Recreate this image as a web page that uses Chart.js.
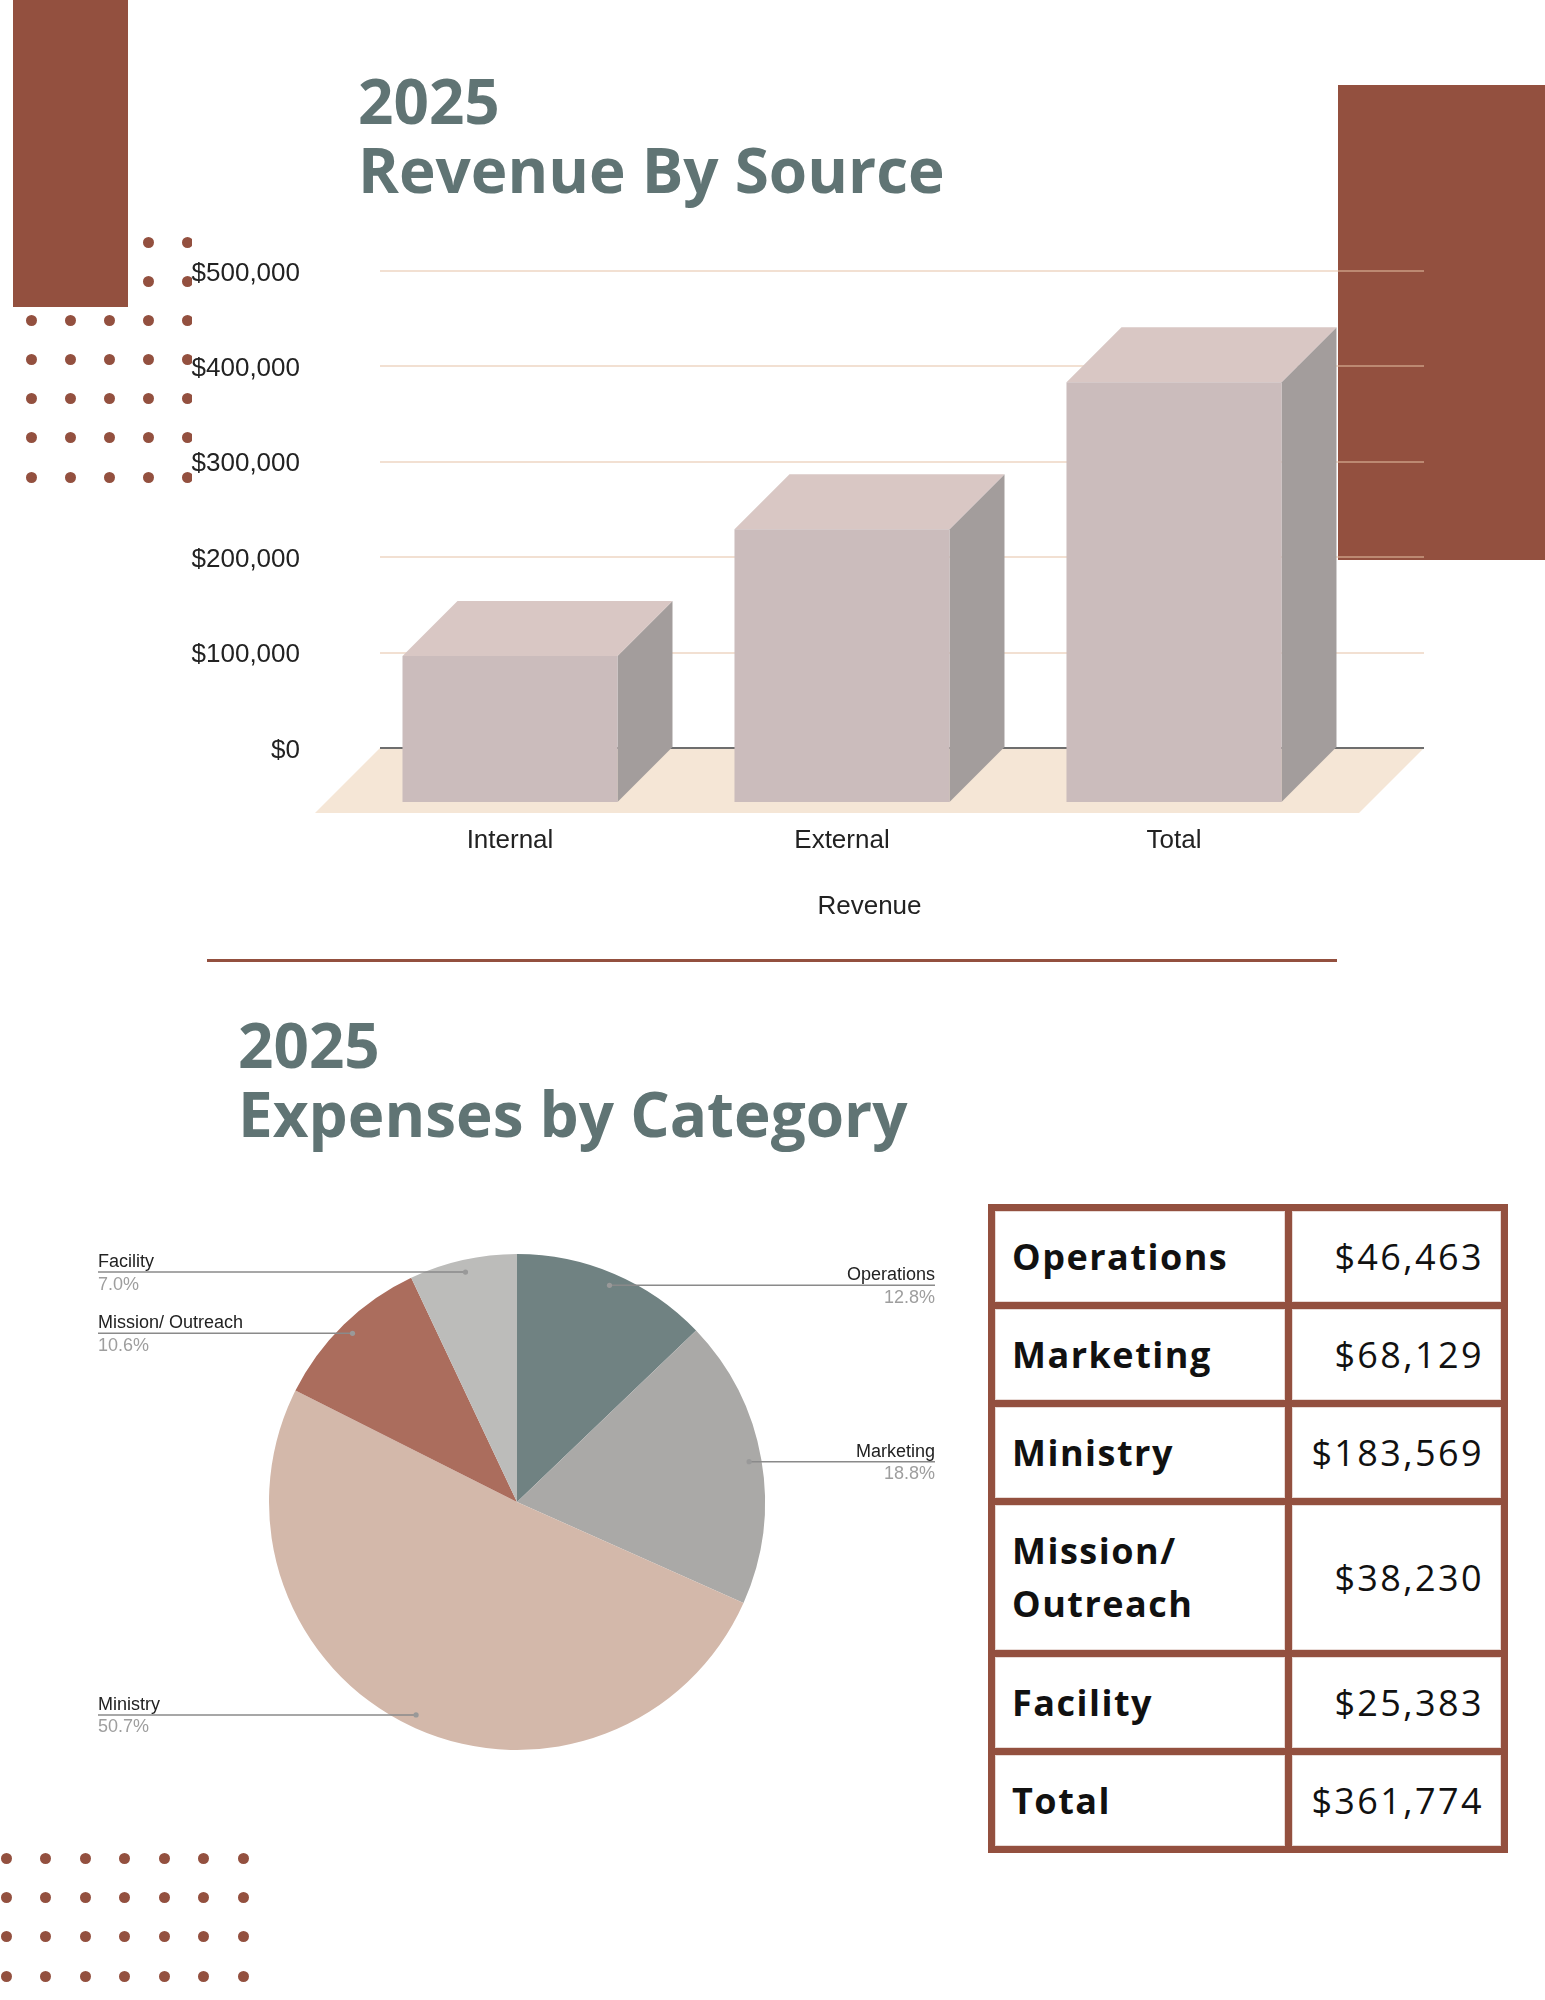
<!DOCTYPE html>
<html>
<head>
<meta charset="utf-8">
<script src="https://cdn.jsdelivr.net/npm/chart.js@4.4.1/dist/chart.umd.min.js"></script>
<style>
html,body{margin:0;padding:0;background:#fff;}
#page{position:relative;width:1545px;height:2000px;overflow:hidden;background:#fff;}
.deco{position:absolute;background:#93503F;}
.dotbox{position:absolute;overflow:hidden;}
.dot{position:absolute;width:11px;height:11px;border-radius:50%;background:#93503F;}
.title{position:absolute;font-family:"Open Sans",sans-serif;font-weight:700;font-size:62px;line-height:69px;color:#607474;letter-spacing:0;white-space:nowrap;margin:0;}
canvas{position:absolute;}
#tbl{position:absolute;left:988px;top:1203.6px;background:#93503F;padding:7px;display:grid;grid-template-columns:290px 209px;grid-template-rows:91px 91px 91px 145px 91px 91px;gap:7px;}
.cell{background:#fff;display:flex;align-items:center;font-family:"Open Sans",sans-serif;font-size:36px;color:#111;box-shadow:inset 0 0 0 1px #e8dad6;}
.lab{font-weight:700;padding-left:17px;letter-spacing:1.5px;line-height:53px;}
.val{justify-content:flex-end;padding-right:17px;letter-spacing:2.4px;font-weight:400;}
</style>
</head>
<body>
<div id="page">
  <div class="dotbox" id="dotsTop" style="left:0;top:230px;width:192px;height:260px;"></div>
  <div class="dotbox" id="dotsBottom" style="left:0;top:1845px;width:260px;height:150px;"></div>
  <div class="deco" style="left:13px;top:0;width:115px;height:307px;"></div>
  <div class="deco" style="left:1338px;top:85px;width:207px;height:475px;"></div>
  <div class="deco" style="left:207px;top:958.5px;width:1130px;height:3px;"></div>

  <div class="title" style="left:358px;top:66px;">2025</div>
  <div class="title" style="left:358px;top:135px;">Revenue By Source</div>
  <div class="title" style="left:238px;top:1009.5px;">2025</div>
  <div class="title" style="left:238px;top:1079px;">Expenses by Category</div>

  <canvas id="revChart" width="1545" height="960" style="left:0;top:0;"></canvas>
  <canvas id="expChart" width="980" height="600" style="left:0;top:1200px;"></canvas>

  <div id="tbl"></div>
</div>

<script>
// ---------- DATA ----------
const revenueCategories = ['Internal', 'External', 'Total'];
const revenueValues = [154000, 287000, 441000];
const revenueTicks = [0, 100000, 200000, 300000, 400000, 500000];
const revenueAxisTitle = 'Revenue';

const expenseCategories = ['Operations', 'Marketing', 'Ministry', 'Mission/ Outreach', 'Facility'];
const expenseValues = [46463, 68129, 183569, 38230, 25383];
const expenseColors = ['#708282', '#AAA9A7', '#D3B8AA', '#AB6D5D', '#BCBCBA'];

const tableLabels = ['Operations', 'Marketing', 'Ministry', 'Mission/ Outreach', 'Facility', 'Total'];
const tableValues = [46463, 68129, 183569, 38230, 25383, 361774];

// ---------- DECORATION ----------
function makeDots(boxId, boxLeft, boxTop, xs, ys) {
  const box = document.getElementById(boxId);
  ys.forEach(cy => xs.forEach(cx => {
    const d = document.createElement('div');
    d.className = 'dot';
    d.style.left = (cx - boxLeft - 5.5) + 'px';
    d.style.top = (cy - boxTop - 5.5) + 'px';
    box.appendChild(d);
  }));
}
makeDots('dotsTop', 0, 230, [31.3, 70.3, 109.3, 148.3, 187.3], [242.3, 281.3, 320.3, 359.6, 398.8, 437.8, 477]);
makeDots('dotsBottom', 0, 1845, [6, 45.5, 85, 124.5, 164, 203.5, 243], [1858, 1897, 1936.5, 1976]);

// ---------- TABLE ----------
const tbl = document.getElementById('tbl');
tableLabels.forEach((lab, i) => {
  const c1 = document.createElement('div');
  c1.className = 'cell lab';
  c1.textContent = lab;
  const c2 = document.createElement('div');
  c2.className = 'cell val';
  c2.textContent = '$' + tableValues[i].toLocaleString('en-US');
  tbl.appendChild(c1); tbl.appendChild(c2);
});

// ---------- REVENUE 3D BAR CHART ----------
const AXIS_FONT = {family: '"Liberation Sans", Arial, sans-serif', size: 26};
const DEPTH = 55;   // 3D offset of bars
const FLOOR = 65;   // depth of floor plane

const bar3d = {
  id: 'bar3d',
  beforeDraw(chart) {
    const {ctx, chartArea: a, scales: {y}} = chart;
    const y0 = y.getPixelForValue(0);
    ctx.save();
    ctx.fillStyle = '#F5E6D6';
    ctx.beginPath();
    ctx.moveTo(a.left, y0);
    ctx.lineTo(a.right, y0);
    ctx.lineTo(a.right - FLOOR, y0 + FLOOR);
    ctx.lineTo(a.left - FLOOR, y0 + FLOOR);
    ctx.closePath();
    ctx.fill();
    ctx.restore();
  },
  afterDatasetsDraw(chart) {
    const {ctx} = chart;
    const meta = chart.getDatasetMeta(0);
    const poly = (color, pts) => {
      ctx.fillStyle = color;
      ctx.beginPath();
      pts.forEach((p, k) => k ? ctx.lineTo(p[0], p[1]) : ctx.moveTo(p[0], p[1]));
      ctx.closePath();
      ctx.fill();
    };
    ctx.save();
    meta.data.forEach(el => {
      const {x, y, base, width} = el.getProps(['x', 'y', 'base', 'width'], true);
      const bl = x - width / 2, br = x + width / 2;
      const fl = bl - DEPTH, fr = br - DEPTH, ft = y + DEPTH, fb = base + DEPTH;
      poly('#A39D9C', [[fr, ft], [br, y], [br, base], [fr, fb]]);
      poly('#D9C7C4', [[fl, ft], [bl, y], [br, y], [fr, ft]]);
      poly('#CBBCBC', [[fl, ft], [fr, ft], [fr, fb], [fl, fb]]);
    });
    // axis title, centred under the floor
    const a = chart.chartArea;
    ctx.font = '26px "Liberation Sans", Arial, sans-serif';
    ctx.fillStyle = '#222';
    ctx.textAlign = 'center';
    ctx.textBaseline = 'middle';
    ctx.fillText(revenueAxisTitle, (a.left - FLOOR + a.right) / 2, chart.scales.x.bottom - 53.5);
    ctx.restore();
  }
};

new Chart(document.getElementById('revChart'), {
  type: 'bar',
  data: {
    datasets: [{
      label: revenueAxisTitle,
      data: revenueValues.map((v, i) => ({x: i, y: v})),
      backgroundColor: 'rgba(0,0,0,0)',
      borderWidth: 0,
      barThickness: 215
    }]
  },
  plugins: [bar3d],
  options: {
    responsive: false,
    devicePixelRatio: 1,
    animation: false,
    layout: {padding: {left: 0, right: 121, top: 271, bottom: 0}},
    plugins: {legend: {display: false}, tooltip: {enabled: false}},
    scales: {
      x: {
        type: 'linear',
        offset: false,
        min: -0.5572,
        max: 2.5874,
        afterBuildTicks: ax => { ax.ticks = revenueCategories.map((_, i) => ({value: i})); },
        afterFit: ax => { ax.height = 212; },
        grid: {display: false, drawTicks: false},
        border: {display: false},
        ticks: {
          callback: v => revenueCategories[v],
          labelOffset: -DEPTH,
          padding: 77.5,
          autoSkip: false,
          maxRotation: 0,
          font: AXIS_FONT,
          color: '#222'
        }
      },
      y: {
        min: 0,
        max: 500000,
        afterBuildTicks: ax => { ax.ticks = revenueTicks.map(v => ({value: v})); },
        afterFit: ax => { ax.width = 380; },
        grid: {
          drawTicks: false,
          color: c => (c.tick && c.tick.value === 0) ? '#6E6E6E' : 'rgba(229,194,166,0.5)',
          lineWidth: 2
        },
        border: {display: false},
        ticks: {
          padding: 80,
          labelOffset: 2.5,
          callback: v => '$' + v.toLocaleString('en-US'),
          font: AXIS_FONT,
          color: '#222'
        }
      }
    }
  }
});

// ---------- EXPENSES PIE CHART ----------
const pieLabels = {
  id: 'pieLabels',
  afterDatasetsDraw(chart) {
    const {ctx, chartArea: a} = chart;
    const meta = chart.getDatasetMeta(0);
    const vals = chart.data.datasets[0].data;
    const total = vals.reduce((s, v) => s + v, 0);
    ctx.save();
    ctx.font = '18px "Liberation Sans", Arial, sans-serif';
    ctx.textBaseline = 'alphabetic';
    meta.data.forEach((arc, i) => {
      const {x, y, startAngle, endAngle, outerRadius} =
        arc.getProps(['x', 'y', 'startAngle', 'endAngle', 'outerRadius'], true);
      const mid = (startAngle + endAngle) / 2;
      const px = x + Math.cos(mid) * outerRadius * 0.95;
      const py = y + Math.sin(mid) * outerRadius * 0.95;
      const right = Math.cos(mid) >= 0;
      const lx = right ? a.right + 170 : a.left - 171;
      ctx.strokeStyle = '#8A8A8A';
      ctx.lineWidth = 1.5;
      ctx.beginPath();
      ctx.moveTo(lx, py);
      ctx.lineTo(px, py);
      ctx.stroke();
      ctx.fillStyle = '#999';
      ctx.beginPath();
      ctx.arc(px, py, 2.6, 0, Math.PI * 2);
      ctx.fill();
      ctx.textAlign = right ? 'right' : 'left';
      ctx.fillStyle = '#222';
      ctx.fillText(chart.data.labels[i], lx, py - 5);
      ctx.fillStyle = '#9E9E9E';
      ctx.fillText((vals[i] / total * 100).toFixed(1) + '%', lx, py + 17.5);
    });
    ctx.restore();
  }
};

new Chart(document.getElementById('expChart'), {
  type: 'pie',
  data: {
    labels: expenseCategories,
    datasets: [{
      data: expenseValues,
      backgroundColor: expenseColors,
      borderWidth: 0
    }]
  },
  plugins: [pieLabels],
  options: {
    responsive: false,
    devicePixelRatio: 1,
    animation: false,
    layout: {padding: {left: 269, right: 215, top: 54, bottom: 50}},
    plugins: {legend: {display: false}, tooltip: {enabled: false}}
  }
});
</script>
</body>
</html>
